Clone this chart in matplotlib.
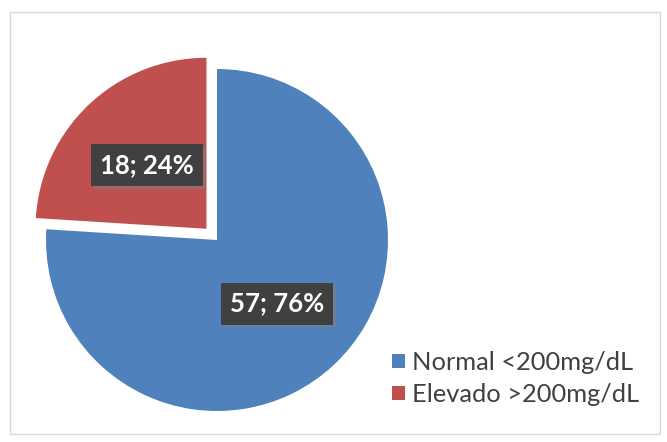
import matplotlib.pyplot as plt
import matplotlib.patheffects as pe
from matplotlib.patches import Rectangle

labels = ["Normal <200mg/dL", "Elevado >200mg/dL"]
counts = [57, 18]
colors = ["#4F81BD", "#C0504D"]

plt.rcParams['font.family'] = ['Lato', 'DejaVu Sans']

fig = plt.figure(figsize=(6.67, 4.42), dpi=100)
W, H = 667, 442
cx, cy, r = 217, 240, 171
ax = fig.add_axes([(cx - r) / W, (H - cy - r) / H, 2 * r / W, 2 * r / H])

total = sum(counts)


def fmt(p):
    return "{}; {:.0f}%".format(int(round(p * total / 100)), p)


wedges, texts, autotexts = ax.pie(
    counts, colors=colors, startangle=90, counterclock=False,
    explode=[0, 0.09], autopct=fmt, pctdistance=0.51, radius=1,
    wedgeprops=dict(linewidth=0),
    textprops=dict(color="white", fontsize=18.5, fontweight="bold"))
ax.set_xlim(-1, 1)
ax.set_ylim(-1, 1)
ax.set_aspect("equal")

for t in autotexts:
    t.set_bbox(dict(facecolor="#404040", edgecolor="none", boxstyle="square,pad=0.35"))
    t.get_bbox_patch().set_path_effects([
        pe.withSimplePatchShadow(offset=(2, -2), shadow_rgbFace="#808080", alpha=0.6),
        pe.Normal()])

leg = fig.legend(wedges, labels, loc="upper left", bbox_to_anchor=(369 / W, 1 - 328 / H),
                 frameon=False, fontsize=18.3, handlelength=0.5, handleheight=0.5,
                 handletextpad=0.3, labelspacing=0.35, labelcolor="#404040")

fig.patches.append(Rectangle((10 / W, 8 / H), 650 / W, 422 / H, transform=fig.transFigure,
                             fill=False, edgecolor="#d9d9d9", linewidth=1))

fig.savefig("out.png", dpi=100)
